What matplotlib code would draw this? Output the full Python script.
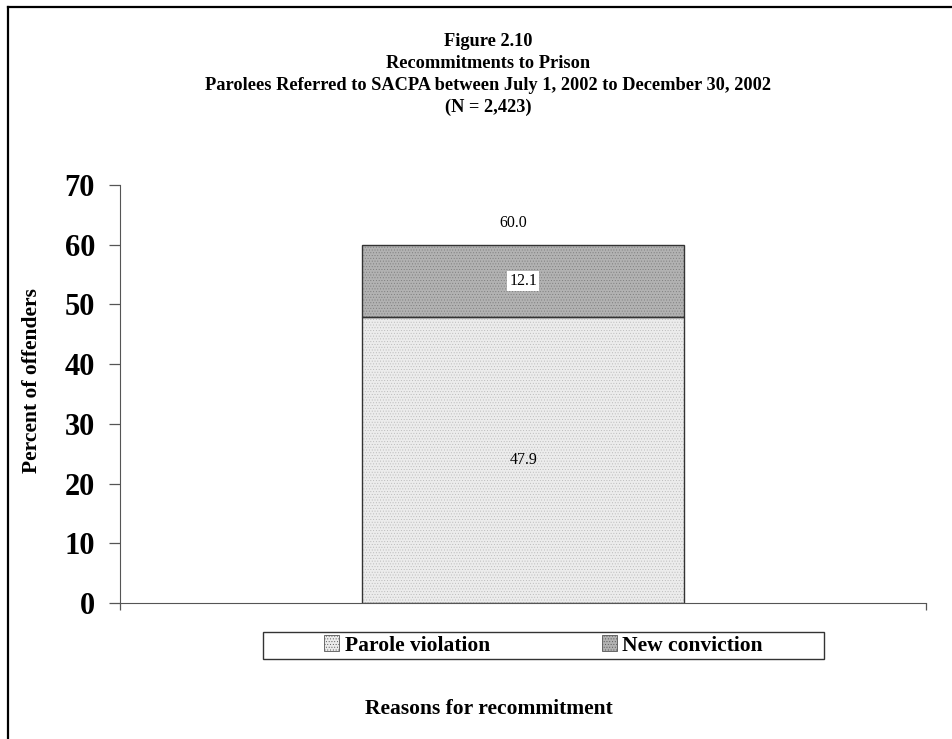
import matplotlib.pyplot as plt
from matplotlib.lines import Line2D
from matplotlib.patches import Patch, Rectangle

plt.rcParams['font.family'] = ['Liberation Serif', 'DejaVu Serif']
plt.rcParams['hatch.linewidth'] = 0.35

categories = ['']
parole_violation = [47.9]
new_conviction = [12.1]
totals = [60.0]
series_names = ['Parole violation', 'New conviction']
title_lines = ['Figure 2.10', 'Recommitments to Prison',
               'Parolees Referred to SACPA between July 1, 2002 to December 30, 2002',
               '(N = 2,423)']

light = '#ececec'
dark = '#b2b2b2'

fig = plt.figure(figsize=(9.53, 7.39), dpi=100)
ax = fig.add_axes([0.126, 0.184, 0.846, 0.566])

# outer frame (only top and left show in the crop)
fig.add_artist(Line2D([0.0085, 0.0085], [0.0, 0.991], color='black', lw=1.6, transform=fig.transFigure))
fig.add_artist(Line2D([0.0085, 1.0], [0.991, 0.991], color='black', lw=1.6, transform=fig.transFigure))

x = list(range(len(categories)))
# dotted fill first, then the outlines on top
ax.bar(x, parole_violation, width=0.4, color=light, edgecolor='#b8b8b8', hatch='......', lw=0)
ax.bar(x, new_conviction, width=0.4, bottom=parole_violation, color=dark,
       edgecolor='#7a7a7a', hatch='......', lw=0)
ax.bar(x, parole_violation, width=0.4, fill=False, edgecolor='#333333', lw=1.0)
ax.bar(x, new_conviction, width=0.4, bottom=parole_violation, fill=False, edgecolor='#333333', lw=1.0)

for i in x:
    ax.text(i, parole_violation[i] / 2, f'{parole_violation[i]:.1f}', ha='center', va='center', fontsize=11.5)
    ax.text(i, parole_violation[i] + new_conviction[i] / 2, f'{new_conviction[i]:.1f}', ha='center',
            va='center', fontsize=11.5, bbox=dict(facecolor='white', edgecolor='none', pad=1.5))
    ax.text(i - 0.012, totals[i] + 3.6, f'{totals[i]:.1f}', ha='center', va='center', fontsize=11.5)

ax.set_xlim(-0.5, 0.5)
ax.set_ylim(0, 70)
ax.set_yticks(range(0, 71, 10))
ax.set_xticks([-0.5, 0.5])
ax.set_xticklabels(['', ''])
ax.tick_params(axis='y', labelsize=22, length=8, width=0.9, pad=10, color='#555555')
ax.tick_params(axis='x', length=5, width=0.9, color='#555555')
for lab in ax.get_yticklabels():
    lab.set_fontweight('bold')
ax.spines['top'].set_visible(False)
ax.spines['right'].set_visible(False)
ax.spines['left'].set_color('#555555')
ax.spines['bottom'].set_color('#555555')

ax.set_ylabel('Percent of offenders', fontsize=15.5, fontweight='bold')
ax.yaxis.set_label_coords(-0.097, 0.533)
fig.text(0.513, 1 - 709 / 739, 'Reasons for recommitment', ha='center', va='center',
         fontsize=15.5, fontweight='bold')

ys = [41, 63, 85, 107]
for t, yy in zip(title_lines, ys):
    fig.text(0.512, 1 - yy / 739, t, ha='center', va='center', fontsize=13.2, fontweight='bold')

# legend box drawn separately so it can be wider than its entries
fig.add_artist(Rectangle((263 / 953, 1 - 659 / 739), 561 / 953, 27 / 739, transform=fig.transFigure,
                         fill=False, edgecolor='#333333', lw=1.0))
handles = [Patch(facecolor=light, edgecolor='#555555', hatch='......', lw=0.6),
           Patch(facecolor=dark, edgecolor='#555555', hatch='......', lw=0.6)]
leg = fig.legend(handles, series_names, loc='center', bbox_to_anchor=(0.5703, 0.1265), ncol=2,
                 prop={'weight': 'bold', 'size': 15.5}, frameon=False,
                 handlelength=0.7, handleheight=0.7, handletextpad=0.25,
                 columnspacing=5.2, borderpad=0.3)

fig.savefig('out.png', dpi=100)
